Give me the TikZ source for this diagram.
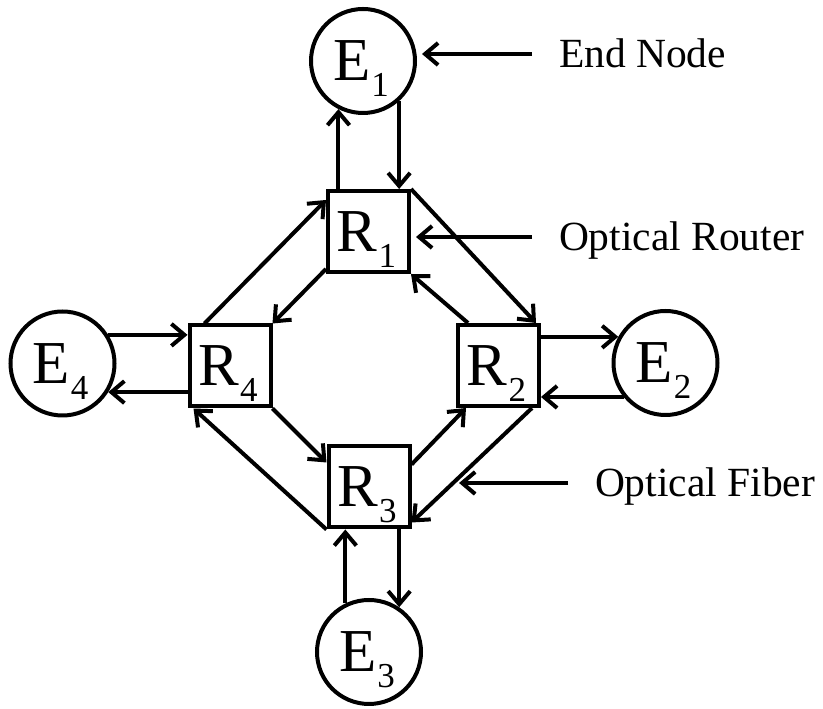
\documentclass[tikz,border=0pt]{standalone}
\usepackage{fontspec}
\setmainfont{Liberation Serif}
\usetikzlibrary{arrows.meta}

\newcommand{\subidx}[2]{#1\kern1pt\raisebox{-16pt}[0pt][0pt]{\fontsize{35}{35}\selectfont #2}\kern4pt}

\begin{document}
\begin{tikzpicture}[x=1pt, y=1pt, line width=4pt,
        >={Straight Barb[length=13pt,width=22pt]},
        router/.style={draw, rectangle, minimum size=81pt, inner sep=0pt, font=\fontsize{61}{61}\selectfont},
        endpt/.style={draw, circle, minimum size=104pt, inner sep=0pt, font=\fontsize{61}{61}\selectfont},
        lbl/.style={inner sep=0pt, anchor=base west, font=\fontsize{41.5}{41.5}\selectfont}]
        \useasboundingbox (0,0) rectangle (823,709);

        % routers
        \node[router] (r1) at (368.5, 477.5) {\subidx{R}{1}};
        \node[router] (r2) at (498.5, 343.5) {\subidx{R}{2}};
        \node[router] (r3) at (369, 222) {\subidx{R}{3}};
        \node[router] (r4) at (230, 343) {\subidx{R}{4}};

        % end nodes
        \node[endpt] (e1) at (363, 648) {\subidx{E}{1}};
        \node[endpt] (e2) at (665.5, 346) {\subidx{E}{2}};
        \node[endpt] (e3) at (369, 57) {\subidx{E}{3}};
        \node[endpt] (e4) at (62.5, 345.5) {\subidx{E}{4}};

        % end node <-> router
        \draw[->] (r1.north -| e1.-117) -- (e1.-117);
        \draw[->] (e1.-48) -- (e1.-48 |- r1.north);
        \draw[->] (e4.32) -- (e4.32 -| r4.west);
        \draw[->] (e4.-32 -| r4.west) -- (e4.-32);
        \draw[->] (e2.151 -| r2.east) -- (e2.151);
        \draw[->] (e2.219) -- (e2.219 -| r2.east);
        \draw[->] (e3.116) -- (e3.116 |- r3.south);
        \draw[->] (r3.south -| e3.56) -- (e3.56);

        % fibre ring
        \draw[->] ([xshift=17pt]r4.north west) -- ([yshift=-11pt]r1.north west);
        \draw[->] ([yshift=5pt]r1.south west) -- (r4.north east);
        \draw[->] ([xshift=12pt]r2.north west) -- (r1.south east);
        \draw[->] (r1.north east) -- ([xshift=-5pt]r2.north east);
        \draw[->] (r4.south east) -- ([yshift=-18pt]r3.north west);
        \draw[->] (r3.south west) -- ([xshift=6pt]r4.south west);
        \draw[->] ([yshift=-20pt]r3.north east) -- ([xshift=10pt]r2.south west);
        \draw[->] ([xshift=-9pt]r2.south east) -- coordinate[pos=0.655] (fiberpt) ([yshift=7pt]r3.south east);

        % labels
        \coordinate (endtail) at (532, 655);
        \coordinate (routertail) at (532, 472);
        \coordinate (fibertail) at (568, 226);
        \node[lbl] (endlbl) at ([xshift=25pt, yshift=-14pt]endtail) {End Node};
        \node[lbl] (routerlbl) at ([xshift=25pt, yshift=-14pt]routertail) {Optical Router};
        \node[lbl] (fiberlbl) at ([xshift=25pt, yshift=-14pt]fibertail) {Optical Fiber};
        \draw[->, shorten >=5pt] (endtail) -- (endtail -| e1.east);
        \draw[->, shorten >=5pt] (routertail) -- (routertail -| r1.east);
        \draw[->, shorten >=6pt] (fibertail) -- (fibertail -| fiberpt);
\end{tikzpicture}
\end{document}
